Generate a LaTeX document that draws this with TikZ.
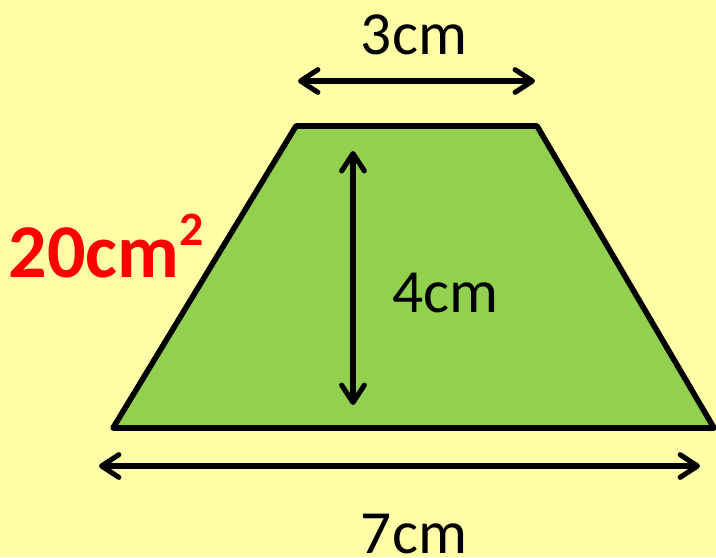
\documentclass[tikz,border=0pt]{standalone}
\usepackage{fontspec}
\setmainfont{Carlito}
\usetikzlibrary{arrows.meta,positioning}
\definecolor{paper}{RGB}{255,253,166}
\definecolor{leaf}{RGB}{146,208,80}
\definecolor{areared}{RGB}{255,0,0}

\begin{document}
\begin{tikzpicture}[x=0.75pt,y=-0.75pt,line width=3.8pt,
  dimarrow/.style={{Straight Barb[round,length=13pt,width=17pt]}-{Straight Barb[round,length=13pt,width=17pt]},line cap=round},
  lbl/.style={font=\fontsize{46}{52}\selectfont,inner sep=0pt}]
\fill[paper] (0,0) rectangle (716,557);
\useasboundingbox (0,0) rectangle (716,557);
\coordinate (tl) at (296,126);
\coordinate (tr) at (537,126);
\coordinate (br) at (714,428);
\coordinate (bl) at (113,428);
\filldraw[fill=leaf,draw=black,line join=round,line width=4.2pt] (tl)--(tr)--(br)--(bl)--cycle;
\coordinate (topL) at (298,81);
\coordinate (topR) at (535,81);
\coordinate (hTop) at (353,151);
\coordinate (hBot) at (353,405);
\coordinate (botL) at (99,466);
\coordinate (botR) at (700,466);
\draw[dimarrow] (topL)--(topR);
\draw[dimarrow] (hTop)--(hBot);
\draw[dimarrow] (botL)--(botR);
\node[lbl] (top) at (414,35) {3cm};
\node[lbl] (height) at (445,293) {4cm};
\node[lbl] (base) at (414,534) {7cm};
\node[inner sep=0pt,text=areared,font=\fontsize{57}{64}\selectfont\bfseries] (area) at (106,246) {20cm\raisebox{0.42em}{\fontsize{36}{40}\selectfont 2}};
\end{tikzpicture}
\end{document}
